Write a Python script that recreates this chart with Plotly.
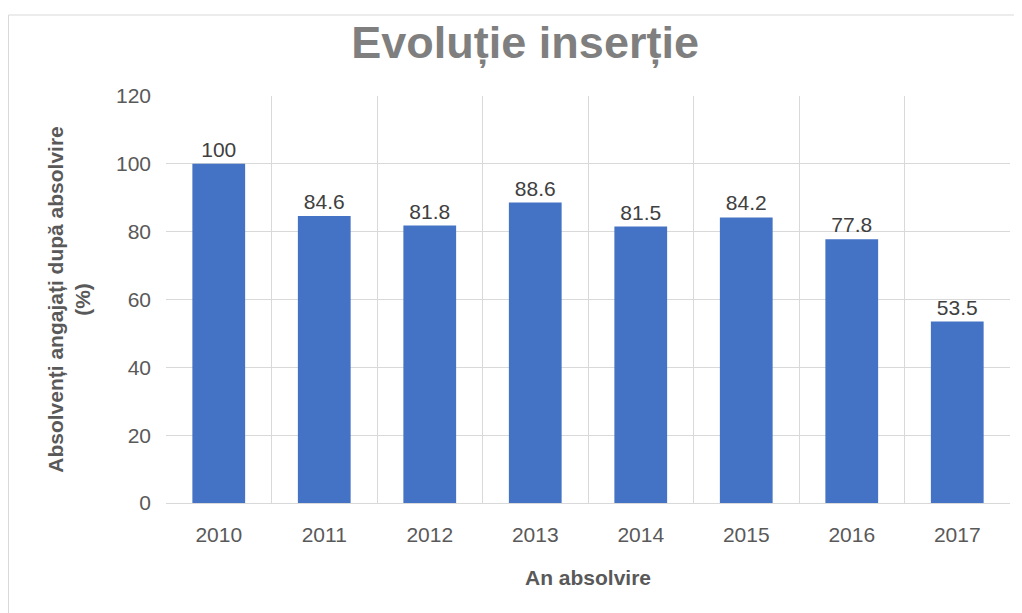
import plotly.graph_objects as go

years = ['2010', '2011', '2012', '2013', '2014', '2015', '2016', '2017']
employed_pct = [100, 84.6, 81.8, 88.6, 81.5, 84.2, 77.8, 53.5]
y_ticks = [0, 20, 40, 60, 80, 100, 120]

grey_text = '#595959'
grid_grey = '#d9d9d9'

fig = go.Figure()
fig.add_trace(go.Bar(x=years,
                     y=employed_pct,
                     text=[str(v) for v in employed_pct],
                     textposition='outside',
                     textfont=dict(size=21, color='#404040'),
                     cliponaxis=False,
                     marker_color='#4472C4',
                     marker_line_width=0))

# page body adds an 8px offset, so the figure is slightly smaller than the window
fig.update_layout(width=1014, height=605,
                  margin=dict(l=158, r=12, t=88, b=110, autoexpand=False),
                  paper_bgcolor='white',
                  plot_bgcolor='white',
                  bargap=0.5,
                  showlegend=False,
                  font=dict(family='Liberation Sans, Arial, sans-serif', color=grey_text),
                  title=dict(text='<b>Evoluție inserție</b>',
                             x=0.51, xanchor='center',
                             y=0.944, yanchor='middle',
                             font=dict(size=45, color='#7f7f7f')))

fig.update_xaxes(type='category',
                 automargin=False,
                 tickson='boundaries',
                 ticklen=0,
                 ticklabelstandoff=13,
                 showgrid=True,
                 gridcolor=grid_grey,
                 gridwidth=1,
                 showline=True,
                 linecolor=grid_grey,
                 tickfont=dict(size=21, color=grey_text),
                 title=dict(text='<b>An absolvire</b>', font=dict(size=21, color=grey_text), standoff=25))

fig.update_yaxes(range=[0, 120],
                 automargin=False,
                 tickvals=y_ticks,
                 showgrid=True,
                 gridcolor=grid_grey,
                 gridwidth=1,
                 zeroline=False,
                 ticks='',
                 ticklabelstandoff=14,
                 tickfont=dict(size=21, color=grey_text),
                 title=dict(text='<b>Absolvenți angajați după absolvire<br>(%)</b>',
                            font=dict(size=21, color=grey_text), standoff=19))

# light frame around the chart
fig.add_shape(type='rect', xref='paper', yref='paper',
              x0=-0.1866, x1=1.05, y0=-0.4, y1=1.199,
              line=dict(color=grid_grey, width=1))

fig.write_html('out.html')
